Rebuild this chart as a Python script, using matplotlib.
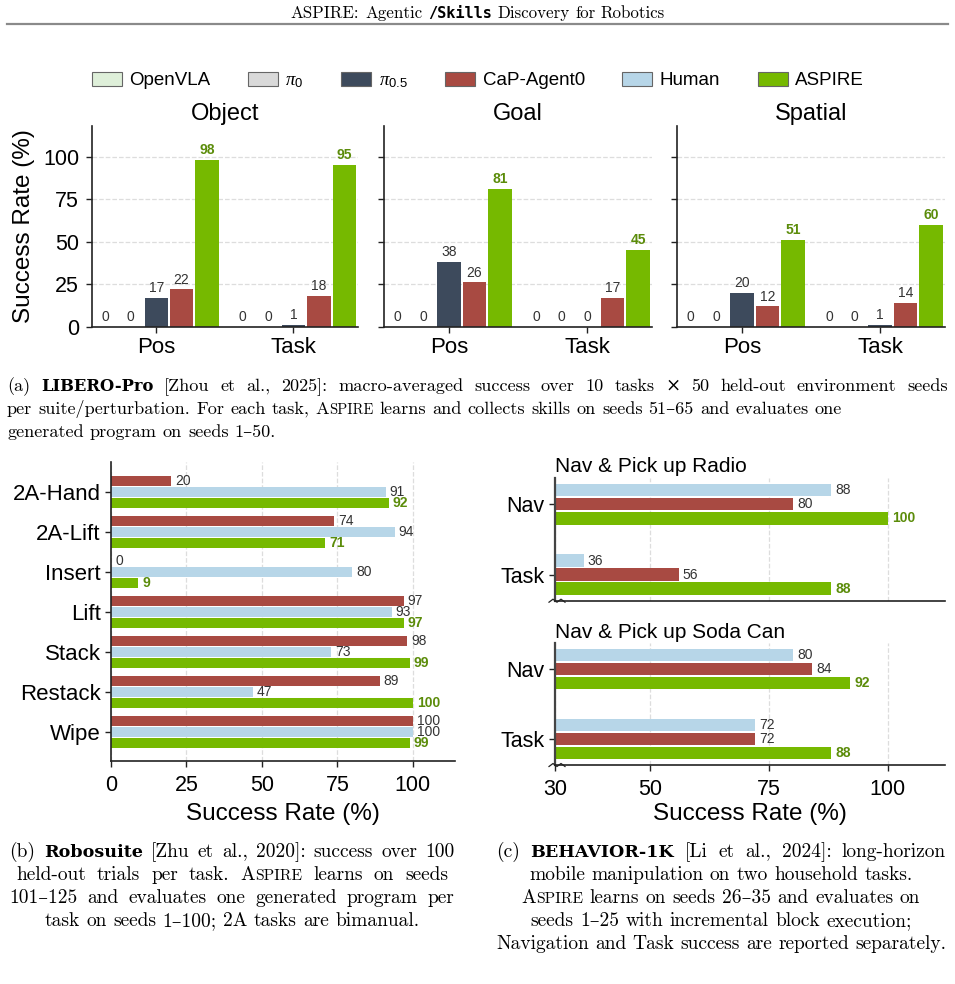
import matplotlib
matplotlib.use('Agg')
import matplotlib.pyplot as plt
from matplotlib.patches import Patch
from matplotlib.lines import Line2D
import numpy as np

plt.rcParams['font.family'] = ['Liberation Sans', 'DejaVu Sans']
plt.rcParams['mathtext.fontset'] = 'custom'
plt.rcParams['mathtext.it'] = 'Liberation Serif:italic'
plt.rcParams['mathtext.rm'] = 'Liberation Sans'

# ---------------- data ----------------
legend_names = ['OpenVLA', r'$\pi_0$', r'$\pi_{0.5}$', 'CaP-Agent0', 'Human', 'ASPIRE']
legend_colors = ['#deefd9', '#d9d9d9', '#3d4a5c', '#a84a42', '#b7d6e8', '#76b900']

# LIBERO-Pro, order: Object Pos, Object Task, Goal Pos, Goal Task, Spatial Pos, Spatial Task
libero_suites = ['Object', 'Goal', 'Spatial']
libero_groups = ['Pos', 'Task']
libero_openvla = [0, 0, 0, 0, 0, 0]
libero_pi0 = [0, 0, 0, 0, 0, 0]
libero_pi05 = [17, 1, 38, 0, 20, 1]
libero_cap = [22, 18, 26, 17, 12, 14]
libero_aspire = [98, 95, 81, 45, 51, 60]

# Robosuite
robo_tasks = ['2A-Hand', '2A-Lift', 'Insert', 'Lift', 'Stack', 'Restack', 'Wipe']
robo_cap = [20, 74, 0, 97, 98, 89, 100]
robo_human = [91, 94, 80, 93, 73, 47, 100]
robo_aspire = [92, 71, 9, 97, 99, 100, 99]

# BEHAVIOR-1K, order: Radio Nav, Radio Task, Soda Nav, Soda Task
beh_scenes = ['Nav & Pick up Radio', 'Nav & Pick up Soda Can']
beh_metrics = ['Nav', 'Task']
beh_human = [88, 36, 80, 72]
beh_cap = [80, 56, 84, 72]
beh_aspire = [100, 88, 92, 88]

W, H = 955, 984
fig = plt.figure(figsize=(W / 100, H / 100), dpi=100)

GREEN_TXT = '#5b8c0a'
VAL_TXT = '#333333'
VAL_SIZE = 10


def px_rect(x0, y0, x1, y1):
    return [x0 / W, 1 - y1 / H, (x1 - x0) / W, (y1 - y0) / H]


def style_axes(ax):
    for s in ['top', 'right']:
        ax.spines[s].set_visible(False)
    for s in ['left', 'bottom']:
        ax.spines[s].set_linewidth(1.2)
        ax.spines[s].set_color('#222222')
    ax.set_axisbelow(True)


def value_label(ax, xy, val, aspire, horizontal):
    if horizontal:
        kw = dict(xytext=(3, 0), ha='left', va='center')
    else:
        kw = dict(xytext=(0, 2), ha='center', va='bottom')
    ax.annotate(f'{val}', xy, textcoords='offset points', fontsize=VAL_SIZE,
                color=GREEN_TXT if aspire else VAL_TXT,
                fontweight='bold' if aspire else 'normal', **kw)


# ---------------- (a) LIBERO-Pro ----------------
top_x = [(91.7, 358), (384, 652), (677, 945)]
libero_series = [libero_openvla, libero_pi0, libero_pi05, libero_cap, libero_aspire]
libero_cols = [legend_colors[i] for i in (0, 1, 2, 3, 5)]
for k, suite in enumerate(libero_suites):
    ax = fig.add_axes(px_rect(top_x[k][0], 126, top_x[k][1], 326.7))
    style_axes(ax)
    xs = np.arange(len(libero_groups))
    for j, (vals, c) in enumerate(zip(libero_series, libero_cols)):
        v = vals[2 * k:2 * k + 2]
        bars = ax.bar(xs + (j - 2) * 0.185, v, width=0.17, color=c, zorder=2)
        for b, val in zip(bars, v):
            value_label(ax, (b.get_x() + b.get_width() / 2, val), val, j == 4, False)
    ax.set_xlim(-0.47, 1.47)
    ax.set_ylim(0, 118)
    ax.set_xticks(xs)
    ax.set_xticklabels(libero_groups, fontsize=16)
    ax.set_yticks([0, 25, 50, 75, 100])
    ax.tick_params(axis='both', length=4, width=1, color='#222222')
    ax.tick_params(axis='y', labelsize=15.5, pad=5)
    if k == 0:
        ax.set_ylabel('Success Rate (%)', fontsize=17.5, labelpad=6)
    else:
        ax.set_yticklabels([])
    ax.yaxis.grid(True, linestyle='--', color='#dddddd', linewidth=0.9)
    ax.set_title(suite, fontsize=17, pad=4)

fig.legend([Patch(facecolor=c, edgecolor='#666666', linewidth=0.8) for c in legend_colors],
           legend_names, loc='center', bbox_to_anchor=(478 / W, 1 - 81 / H),
           ncol=6, frameon=False, fontsize=13.5, handlelength=1.6, handleheight=0.8,
           handletextpad=0.4, columnspacing=2.0)

# ---------------- (b) Robosuite ----------------
ax = fig.add_axes(px_rect(111, 462, 455, 761))
style_axes(ax)
ys = np.arange(len(robo_tasks))
robo_series = [(robo_cap, legend_colors[3], -0.275), (robo_human, legend_colors[4], 0.0),
               (robo_aspire, legend_colors[5], 0.275)]
for vals, c, off in robo_series:
    bars = ax.barh(ys + off, vals, height=0.25, color=c, zorder=2)
    for b, val in zip(bars, vals):
        value_label(ax, (val, b.get_y() + b.get_height() / 2), val,
                    c == legend_colors[5], True)
ax.set_ylim(6.72, -0.76)
ax.set_xlim(0, 114)
ax.set_yticks(ys)
ax.set_yticklabels(robo_tasks, fontsize=16)
ax.set_xticks([0, 25, 50, 75, 100])
ax.tick_params(axis='both', length=4, width=1, color='#222222')
ax.tick_params(axis='x', labelsize=15.5, pad=6)
ax.xaxis.grid(True, linestyle='--', color='#dddddd', linewidth=0.9)
ax.set_xlabel('Success Rate (%)', fontsize=17.5, labelpad=5)

# ---------------- (c) BEHAVIOR-1K ----------------
beh_y = [(478, 600.7), (643.3, 765)]
for k, scene in enumerate(beh_scenes):
    ax = fig.add_axes(px_rect(555, beh_y[k][0], 945, beh_y[k][1]))
    style_axes(ax)
    ax.spines['left'].set_color('#444444')
    ax.spines['left'].set_linewidth(1.6)
    ys = np.arange(len(beh_metrics))
    series = [(beh_human, legend_colors[4], -0.2), (beh_cap, legend_colors[3], 0.0),
              (beh_aspire, legend_colors[5], 0.2)]
    for vals, c, off in series:
        v = vals[2 * k:2 * k + 2]
        bars = ax.barh(ys + off, v, height=0.18, color=c, zorder=2)
        for b, val in zip(bars, v):
            value_label(ax, (val, b.get_y() + b.get_height() / 2), val,
                        c == legend_colors[5], True)
    ax.set_ylim(1.37, -0.37)
    ax.set_xlim(30, 112)
    ax.set_yticks(ys)
    ax.set_yticklabels(beh_metrics, fontsize=15.5)
    ax.set_xticks([30, 50, 75, 100])
    ax.tick_params(axis='both', length=4, width=1, color='#222222')
    ax.xaxis.grid(True, linestyle='--', color='#dddddd', linewidth=0.9)
    ax.set_title(scene, fontsize=15, loc='left', pad=4)
    if k == 0:
        ax.tick_params(axis='x', length=0, labelbottom=False)
    else:
        ax.tick_params(axis='x', labelsize=15.5, pad=6)
        ax.set_xlabel('Success Rate (%)', fontsize=17.5, labelpad=2)
    # axis break squiggle at the bottom-left corner
    yb = beh_y[k][1]
    zx = [549, 553, 557, 561, 565]
    zy = [yb + 1.5, yb - 1.5, yb + 1.5, yb - 1.5, yb + 1.5]
    fig.add_artist(Line2D([x / W for x in zx], [1 - y / H for y in zy],
                          color='#222222', lw=0.9))

# ---------------- header and captions ----------------
fonts = {
    'r': ['cmr10', 'DejaVu Serif'],
    'b': ['DejaVu Serif'],
    'sc': ['cmr10', 'DejaVu Serif'],
    'tt': ['DejaVu Sans Mono'],
}
renderer = fig.canvas.get_renderer()


def tokens(segs):
    out, gap = [], False
    for text, st in segs:
        for i, w in enumerate(text.split(' ')):
            if i > 0:
                gap = True
            if w:
                out.append((w, st, gap))
                gap = False
    return out


def font_kw(st, size):
    kw = dict(family=fonts[st], fontsize=size)
    if st == 'sc':
        kw['fontsize'] = size * 0.8
    if st == 'b':
        kw.update(fontweight='bold', fontsize=size * 0.9)
    if st == 'tt':
        kw.update(fontweight='bold', fontsize=size * 0.9)
    return kw


def advance(word, kw):
    # advance width: ink of "HwordH" minus ink of "HH"
    t1 = fig.text(0, 0, 'H' + word + 'H', **kw)
    t2 = fig.text(0, 0, 'HH', **kw)
    w = t1.get_window_extent(renderer).width - t2.get_window_extent(renderer).width
    t1.remove()
    t2.remove()
    return w


def draw_line(segs, x, y, size, ha='left', justify=None):
    toks = tokens(segs)
    arts, widths = [], []
    for w, st, g in toks:
        kw = font_kw(st, size)
        arts.append(fig.text(0, 0, w, ha='left', va='baseline', **kw))
        widths.append(advance(w, kw))
    ngaps = sum(1 for _, _, g in toks if g)
    gap = 0.333 * size * fig.dpi / 72
    if justify is not None and ngaps:
        gap = (justify - sum(widths)) / ngaps
    total = sum(widths) + gap * ngaps
    cx = x - total / 2 if ha == 'center' else x
    for t, wd, (_, _, g) in zip(arts, widths, toks):
        if g:
            cx += gap
        t.set_position((cx / W, 1 - y / H))
        cx += wd


draw_line([('ASPIRE: Agentic ', 'r'), ('/Skills', 'tt'), (' Discovery for Robotics', 'r')],
          478, 18, 12.2, ha='center')
fig.add_artist(Line2D([7 / W, 948 / W], [1 - 24 / H] * 2, color='#8a8a8a', lw=1.6))

cap_a = [
    [('(a) ', 'r'), ('LIBERO-Pro', 'b'),
     (' [Zhou et al., 2025]: macro-averaged success over 10 tasks \u00d7 50 held-out environment seeds', 'r')],
    [('per suite/perturbation. For each task, ', 'r'), ('A', 'r'), ('SPIRE', 'sc'),
     (' learns and collects skills on seeds 51\u201365 and evaluates one', 'r')],
    [('generated program on seeds 1\u201350.', 'r')],
]
for i, line in enumerate(cap_a):
    draw_line(line, 7, 391 + 23 * i, 13.1, justify=941 if i == 0 else None)

cap_b = [
    [('(b) ', 'r'), ('Robosuite', 'b'), (' [Zhu et al., 2020]: success over 100', 'r')],
    [('held-out trials per task. ', 'r'), ('A', 'r'), ('SPIRE', 'sc'), (' learns on seeds', 'r')],
    [('101\u2013125 and evaluates one generated program per', 'r')],
    [('task on seeds 1\u2013100; 2A tasks are bimanual.', 'r')],
]
b_just = [445, 432, 445, None]
for i, line in enumerate(cap_b):
    draw_line(line, 232, 857 + 23 * i, 14.0, ha='center', justify=b_just[i])

cap_c = [
    [('(c) ', 'r'), ('BEHAVIOR-1K', 'b'), (' [Li et al., 2024]: long-horizon', 'r')],
    [('mobile manipulation on two household tasks.', 'r')],
    [('A', 'r'), ('SPIRE', 'sc'), (' learns on seeds 26\u201335 and evaluates on', 'r')],
    [('seeds 1\u201325 with incremental block execution;', 'r')],
    [('Navigation and Task success are reported separately.', 'r')],
]
c_just = [450, None, None, None, 450]
for i, line in enumerate(cap_c):
    draw_line(line, 721, 857 + 23 * i, 14.0, ha='center', justify=c_just[i])

fig.savefig('out.png', dpi=100, facecolor='white')
